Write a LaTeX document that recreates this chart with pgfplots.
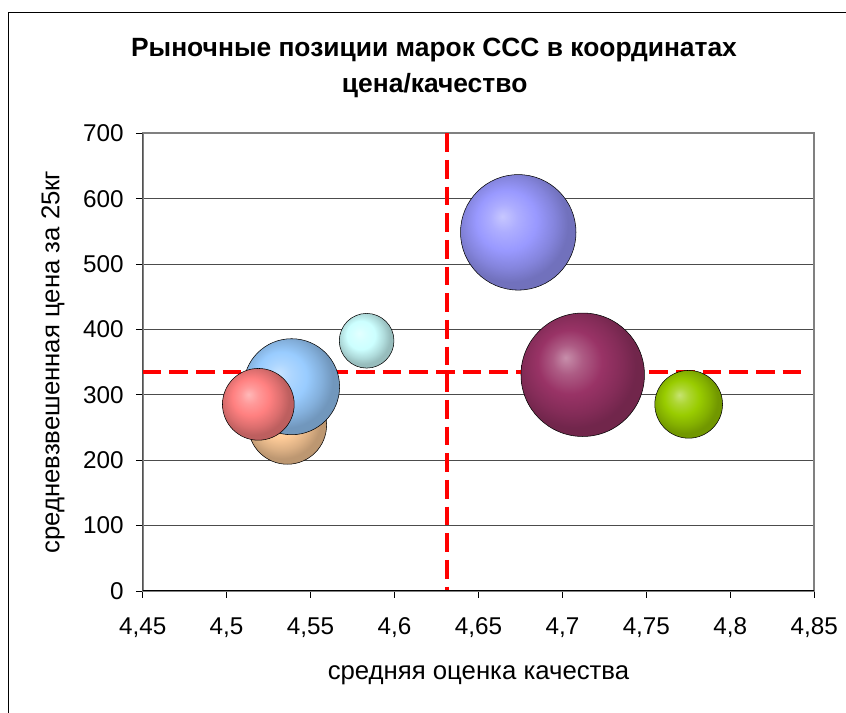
\documentclass[border=0pt]{standalone}
\usepackage{fontspec}
\setmainfont{Liberation Sans}
\usepackage{pgfplots}
\pgfplotsset{compat=1.18}

% shaded bubble: light spot up left, dark rim
\makeatletter
\pgfdeclareradialshading[tikz@ball]{bubble}{\pgfqpoint{-7bp}{7bp}}{%
  color(0bp)=(tikz@ball!55!white);
  color(6bp)=(tikz@ball!80!white);
  color(13bp)=(tikz@ball);
  color(20bp)=(tikz@ball!86!black);
  color(25bp)=(tikz@ball!74!black);
  color(50bp)=(tikz@ball!72!black)}
\makeatother

\newcommand\bubblemark[2]{%
  \definecolor{#1}{HTML}{#2}%
  \pgfdeclareplotmark{#1}{\shade[ball color=#1, shading=bubble] (0pt,0pt) circle[radius=\pgfplotmarksize];}}
\bubblemark{btan}{FFCC99}
\bubblemark{bblue}{99CCFF}
\bubblemark{bred}{FF8080}
\bubblemark{bcyan}{CCFFFF}
\bubblemark{bviolet}{9999FF}
\bubblemark{bplum}{993366}
\bubblemark{bgreen}{99CC00}

\begin{document}
\begin{tikzpicture}
\useasboundingbox (0,0) rectangle (634.5bp,534.75bp);
% chart frame (left and top edges only are in view)
\draw[line width=1bp] (6.2bp,-2bp) -- (6.2bp,525.2bp) -- (640bp,525.2bp);

\node[anchor=base, font=\bfseries\fontsize{19.8bp}{23bp}\selectfont] at (325.5bp,492.2bp)
  {Рыночные позиции марок ССС в координатах};
\node[anchor=base, font=\bfseries\fontsize{19.8bp}{23bp}\selectfont] at (326bp,465.2bp)
  {цена/качество};

\begin{axis}[
    at={(107bp,91.5bp)}, anchor=south west,
    scale only axis,
    width=503.7bp, height=343.3bp,
    xmin=4.45, xmax=4.85,
    ymin=0, ymax=700,
    xtick={4.45,4.5,4.55,4.6,4.65,4.7,4.75,4.8,4.85},
    ytick={0,100,200,300,400,500,600,700},
    xtick pos=bottom, ytick pos=left,
    tick align=outside,
    major tick length=5bp,
    major tick style={black, line width=0.75bp},
    ymajorgrids,
    major grid style={black!70, line width=0.75bp},
    axis line style={draw=black!50, line width=1.3bp},
    /pgf/number format/use comma,
    /pgf/number format/assume math mode=true,
    tick label style={font=\fontsize{18.2bp}{21bp}\selectfont},
    xticklabel style={yshift=-11.3bp},
    yticklabel style={xshift=-5.8bp},
    xlabel={средняя оценка качества},
    ylabel={средневзвешенная цена за 25кг},
    label style={font=\fontsize{19.3bp}{22bp}\selectfont},
    xlabel style={at={(axis description cs:0.5,-0.1835)}, anchor=center},
    ylabel style={at={(axis description cs:-0.1336,0.5)}, anchor=center},
]
% bubbles, in the order they are drawn
\addplot[only marks, mark=btan, mark size=29.4bp] coordinates {(4.5362,253.8)};
\addplot[only marks, mark=bblue, mark size=36bp] coordinates {(4.5387,312.4)};
\addplot[only marks, mark=bred, mark size=26.9bp] coordinates {(4.5189,285.5)};
\addplot[only marks, mark=bcyan, mark size=20.5bp] coordinates {(4.5834,382.7)};
\addplot[only marks, mark=bviolet, mark size=43.3bp] coordinates {(4.6737,548.5)};
\addplot[only marks, mark=bplum, mark size=46.3bp] coordinates {(4.7121,330.7)};
\addplot[only marks, mark=bgreen, mark size=25.4bp] coordinates {(4.7752,285.5)};

% average lines
\addplot[red, line width=3bp, dash pattern=on 14bp off 6bp] coordinates {(4.6312,700) (4.6312,0)};
\addplot[red, line width=3bp, dash pattern=on 14bp off 6bp] coordinates {(4.45,335.3) (4.843,335.3)};

\draw[black, line width=1bp] (rel axis cs:0,1) -- (rel axis cs:0,0) -- (rel axis cs:1,0);
\end{axis}
\end{tikzpicture}
\end{document}
